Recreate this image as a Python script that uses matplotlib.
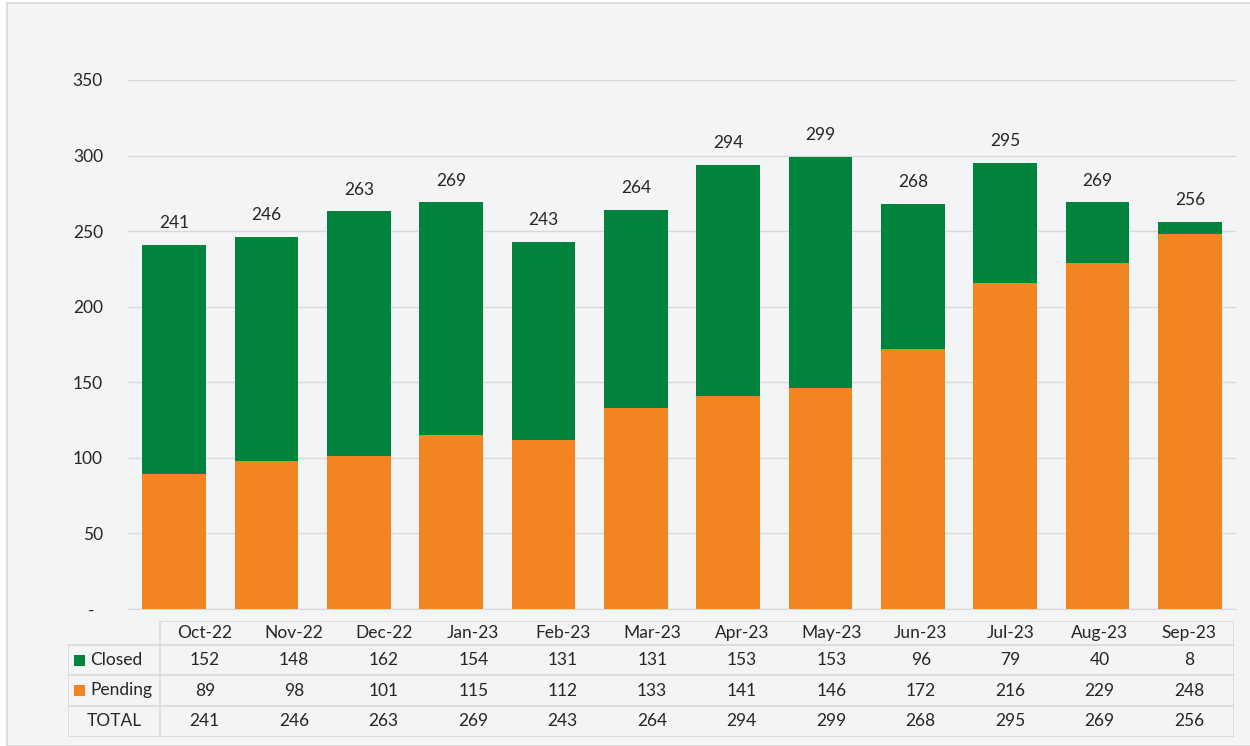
import matplotlib.pyplot as plt
from matplotlib.patches import Rectangle

months = ['Oct-22', 'Nov-22', 'Dec-22', 'Jan-23', 'Feb-23', 'Mar-23',
          'Apr-23', 'May-23', 'Jun-23', 'Jul-23', 'Aug-23', 'Sep-23']
closed = [152, 148, 162, 154, 131, 131, 153, 153, 96, 79, 40, 8]
pending = [89, 98, 101, 115, 112, 133, 141, 146, 172, 216, 229, 248]
totals = [p + c for p, c in zip(pending, closed)]
yticks = [0, 50, 100, 150, 200, 250, 300, 350]
ytick_labels = ['-  ', '50', '100', '150', '200', '250', '300', '350']

GREEN = '#00843D'
ORANGE = '#F28522'
BG = '#F3F4F6'
GRID = '#D9D9D9'
TXT = '#262626'

plt.rcParams['font.family'] = ['Lato', 'DejaVu Sans']

W, H = 1250, 746
fig = plt.figure(figsize=(W / 100, H / 100), dpi=100, facecolor='white')
fig.patches.append(Rectangle((7 / W, 0), 1, 1 - 3 / H, transform=fig.transFigure,
                             facecolor=BG, edgecolor=GRID, linewidth=1.2, zorder=-10))

# main chart
ax = fig.add_axes([128 / W, 1 - 609 / H, (1236 - 128) / W, (609 - 80) / H])
ax.set_facecolor('none')
x = range(len(months))
ax.bar(x, pending, width=0.69, color=ORANGE, zorder=3)
ax.bar(x, closed, width=0.69, bottom=pending, color=GREEN, zorder=3)
for i, t in enumerate(totals):
    ax.annotate(str(t), (i, t), xytext=(0, 10), textcoords='offset points',
                ha='center', va='bottom', fontsize=12.5, color=TXT)
ax.set_xlim(-0.5, len(months) - 0.5)
ax.set_ylim(0, 350)
ax.set_yticks(yticks)
ax.set_yticklabels(ytick_labels, fontsize=12.5, color=TXT)
ax.set_xticks([])
ax.tick_params(axis='y', length=0, pad=18)
ax.grid(axis='y', color=GRID, linewidth=1, zorder=0)
for s in ['top', 'right', 'left']:
    ax.spines[s].set_visible(False)
ax.spines['bottom'].set_color(GRID)

# data table (pixel coordinates axes)
tx0, tx1, ty0, ty1 = 68, 1234, 621, 737
tab = fig.add_axes([tx0 / W, 1 - ty1 / H, (tx1 - tx0) / W, (ty1 - ty0) / H])
tab.set_xlim(tx0, tx1)
tab.set_ylim(ty1, ty0)
tab.axis('off')
lab_right = 160
row_edges = [621, 645, 675, 706, 737]
colw = (tx1 - lab_right) / len(months)
lc = dict(color=GRID, linewidth=1.2)
# horizontal lines
tab.plot([lab_right, tx1], [row_edges[0]] * 2, **lc)
for yy in row_edges[1:]:
    tab.plot([tx0, tx1], [yy, yy], **lc)
# vertical lines: outer frame and label column only
tab.plot([tx0, tx0], [row_edges[1], row_edges[-1]], **lc)
tab.plot([lab_right, lab_right], [row_edges[0], row_edges[-1]], **lc)
tab.plot([tx1, tx1], [row_edges[0], row_edges[-1]], **lc)

rows = [months, closed, pending, totals]
for r, vals in enumerate(rows):
    yc = (row_edges[r] + row_edges[r + 1]) / 2
    for j, v in enumerate(vals):
        tab.text(lab_right + (j + 0.5) * colw, yc, str(v), ha='center', va='center',
                 fontsize=12.5, color=TXT)

for r, (name, col) in enumerate([('Closed', GREEN), ('Pending', ORANGE)]):
    yc = (row_edges[r + 1] + row_edges[r + 2]) / 2
    tab.add_patch(Rectangle((74, yc - 5.5), 11, 11, facecolor=col, edgecolor='none'))
    tab.text(90, yc, name, ha='left', va='center', fontsize=12.5, color=TXT)
yc = (row_edges[3] + row_edges[4]) / 2
tab.text((tx0 + lab_right) / 2, yc, 'TOTAL', ha='center', va='center', fontsize=12.5, color=TXT)

fig.savefig('out.png', dpi=100, facecolor=fig.get_facecolor())
